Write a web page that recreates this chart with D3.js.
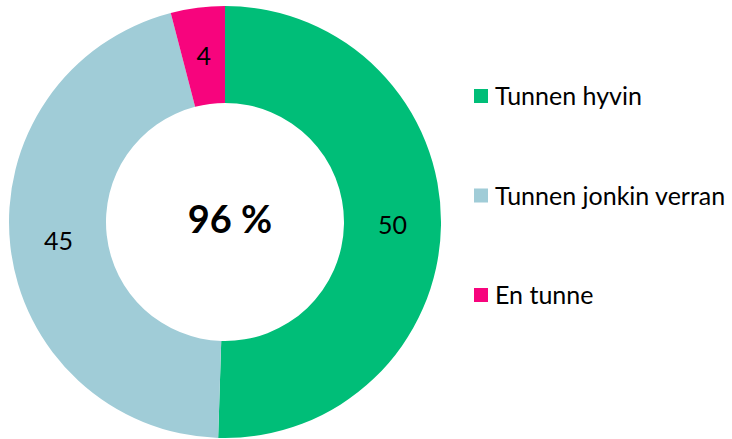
<!DOCTYPE html>
<html>
<head>
<meta charset="utf-8">
<script src="https://cdn.jsdelivr.net/npm/d3@7"></script>
<style>
  body { margin: 0; background: #fff; }
  text { font-family: Lato, "Open Sans", sans-serif; fill: #000; }
</style>
</head>
<body>
<div id="chart"></div>
<script>
const categories = ["Tunnen hyvin", "Tunnen jonkin verran", "En tunne"];
const values = [50, 45, 4];
const colors = ["#00BE78", "#A0CCD7", "#F7047D"];
const centerLabel = "96 %";

const width = 732, height = 439;
const cx = 225, cy = 222, outerR = 216, innerR = 119;

const svg = d3.select("#chart")
  .append("svg")
  .attr("width", width)
  .attr("height", height);

const pie = d3.pie().sort(null).value(d => d);
const arc = d3.arc().innerRadius(innerR).outerRadius(outerR);
const arcs = pie(values);

const g = svg.append("g").attr("transform", `translate(${cx},${cy})`);

g.selectAll("path")
  .data(arcs)
  .enter()
  .append("path")
  .attr("d", arc)
  .attr("fill", (d, i) => colors[i]);

g.selectAll("text.label")
  .data(arcs)
  .enter()
  .append("text")
  .attr("class", "label")
  .attr("transform", d => `translate(${arc.centroid(d)})`)
  .attr("text-anchor", "middle")
  .attr("dy", "0.36em")
  .style("font-size", "25px")
  .text(d => d.data);

g.append("text")
  .attr("x", 5)
  .attr("y", 11)
  .attr("text-anchor", "middle")
  .style("font-size", "38px")
  .style("font-weight", "bold")
  .text(centerLabel);

const legend = svg.append("g");
const ly = d3.scalePoint().domain(categories).range([96, 295]);

legend.selectAll("rect")
  .data(categories)
  .enter()
  .append("rect")
  .attr("x", 474)
  .attr("y", d => ly(d) - 7)
  .attr("width", 14)
  .attr("height", 14)
  .attr("fill", (d, i) => colors[i]);

legend.selectAll("text")
  .data(categories)
  .enter()
  .append("text")
  .attr("x", 495)
  .attr("y", d => ly(d))
  .attr("dy", "0.36em")
  .style("font-size", "25px")
  .text(d => d);
</script>
</body>
</html>
